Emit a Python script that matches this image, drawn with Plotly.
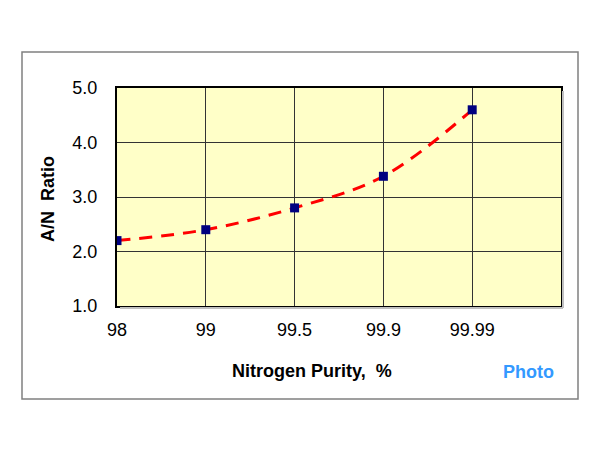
import plotly.graph_objects as go

categories = ["98", "99", "99.5", "99.9", "99.99"]
an_ratio = [2.2, 2.4, 2.8, 3.38, 4.6]
y_ticks = [1.0, 2.0, 3.0, 4.0, 5.0]

xpos = list(range(len(categories)))

O = 8  # browser body margin
W, H = 600 - O, 450 - O
L, T = 117 - O, 88 - O
R = W - (561 - O)
B = H - (306 - O)
pw, ph = W - L - R, H - T - B

def px(x):
    return (x - O - L) / pw

def py(y):
    return (H - B - (y - O)) / ph

fig = go.Figure()
fig.add_trace(go.Scatter(
    x=xpos, y=an_ratio, mode="lines",
    line=dict(color="#ff0000", width=3, dash="13px,9px", shape="spline", smoothing=1.0),
    hoverinfo="skip", showlegend=False))
fig.add_trace(go.Scatter(
    x=xpos, y=an_ratio, mode="markers",
    marker=dict(symbol="square", size=9, color="#000080"),
    showlegend=False))

font = "Liberation Sans, Arial, sans-serif"
fig.update_layout(
    width=W, height=H,
    margin=dict(l=L, r=R, t=T, b=B),
    paper_bgcolor="white",
    plot_bgcolor="#ffffc8",
    font=dict(family=font, color="black", size=18),
    xaxis=dict(
        range=[0, 5], tickvals=xpos, ticktext=categories,
        showgrid=True, gridcolor="#333333", gridwidth=1,
        showline=True, linecolor="black", linewidth=2, mirror=True,
        ticks="", ticklabelstandoff=6, zeroline=False,
        tickfont=dict(size=18, family=font),
    ),
    yaxis=dict(
        range=[1, 5], tickvals=y_ticks, tickformat=".1f",
        showgrid=True, gridcolor="#333333", gridwidth=1,
        showline=True, linecolor="black", linewidth=2, mirror=True,
        ticks="", ticklabelstandoff=14, zeroline=False,
        tickfont=dict(size=18, family=font),
    ),
    shapes=[
        dict(type="rect", xref="paper", yref="paper",
             x0=px(22), x1=px(578), y0=py(399), y1=py(52),
             line=dict(color="#808080", width=1.5), layer="below"),
        dict(type="line", xref="paper", yref="paper",
             x0=px(563), x1=px(563), y0=py(308), y1=py(91),
             line=dict(color="#c0c0c0", width=2)),
        dict(type="line", xref="paper", yref="paper",
             x0=px(120), x1=px(563), y0=py(308), y1=py(308),
             line=dict(color="#c0c0c0", width=2)),
    ],
    annotations=[
        dict(text="<b>Nitrogen Purity,  %</b>", xref="paper", yref="paper",
             x=px(312), y=py(371), showarrow=False, xanchor="center", yanchor="middle",
             font=dict(size=18, family=font, color="black")),
        dict(text="<b>Photo</b>", xref="paper", yref="paper",
             x=px(528), y=py(372), showarrow=False, xanchor="center", yanchor="middle",
             font=dict(size=18, family=font, color="#3399ff")),
        dict(text="<b>A/N  Ratio</b>", xref="paper", yref="paper",
             x=px(48), y=py(199), showarrow=False, textangle=-90,
             xanchor="center", yanchor="middle",
             font=dict(size=18, family=font, color="black")),
    ],
)

fig.write_html("out.html")
